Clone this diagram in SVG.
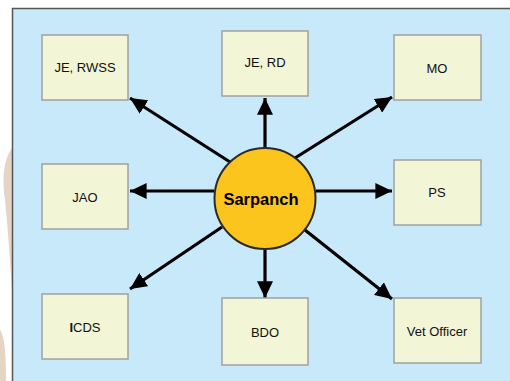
<svg xmlns="http://www.w3.org/2000/svg" width="510" height="381" viewBox="0 0 510 381">
<style>
.box{fill:#f2f5d6;stroke:#a0a0a0;stroke-width:1.5}
.lbl{font-family:"Liberation Sans",Arial,sans-serif;font-size:13px;fill:#111;text-anchor:middle;dominant-baseline:central}
.arr{stroke:#000;stroke-width:3.2;fill:none;marker-end:url(#ah)}
</style>
<defs>
<marker id="ah" markerWidth="6" markerHeight="5" refX="5.2" refY="2.5" orient="auto" markerUnits="strokeWidth">
<path d="M0,0 L5.2,2.5 L0,5 Z" fill="#000"/>
</marker>
</defs>
<rect width="510" height="381" fill="#fff"/>
<path d="M12,148 C3,160 2,180 5,200 C8,230 10,260 12,290 Z" fill="#e6d4c4"/>
<path d="M0,330 C4,335 6,350 6,381 L0,381 Z" fill="#e6d4c4"/>
<rect x="12.5" y="8.5" width="510" height="380" fill="#c8e9f9" stroke="#555" stroke-width="1.5"/>
<g id="connectors">
<line class="arr" x1="230" y1="162" x2="130" y2="98"/>
<line class="arr" x1="265" y1="149" x2="265" y2="98"/>
<line class="arr" x1="295" y1="158" x2="392" y2="97"/>
<line class="arr" x1="214" y1="191" x2="130" y2="191"/>
<line class="arr" x1="316" y1="191" x2="392" y2="191"/>
<line class="arr" x1="222" y1="227" x2="130" y2="289"/>
<line class="arr" x1="265" y1="248" x2="265" y2="298"/>
<line class="arr" x1="305" y1="230" x2="392" y2="299"/>
</g>
<g id="je-rwss"><rect class="box" x="42" y="35" width="86" height="65"/><text class="lbl" x="85" y="67">JE, RWSS</text></g>
<g id="je-rd"><rect class="box" x="222" y="31" width="86" height="65"/><text class="lbl" x="265" y="62">JE, RD</text></g>
<g id="mo"><rect class="box" x="394" y="35" width="87" height="65"/><text class="lbl" x="437" y="68">MO</text></g>
<g id="jao"><rect class="box" x="42" y="164" width="86" height="65"/><text class="lbl" x="85" y="197">JAO</text></g>
<g id="ps"><rect class="box" x="394" y="160" width="87" height="65"/><text class="lbl" x="437" y="192">PS</text></g>
<g id="icds"><rect class="box" x="42" y="294" width="86" height="65"/><text class="lbl" x="85" y="327"><tspan font-weight="bold">I</tspan>CDS</text></g>
<g id="bdo"><rect class="box" x="222" y="298" width="86" height="67"/><text class="lbl" x="265" y="332">BDO</text></g>
<g id="vet-officer"><rect class="box" x="394" y="298" width="87" height="65"/><text class="lbl" x="437" y="331">Vet Officer</text></g>
<g id="sarpanch"><circle cx="265" cy="198.5" r="50.5" fill="#fbc51d" stroke="#2a2a2a" stroke-width="2"/><text x="261" y="198.5" font-family="'Liberation Sans',Arial,sans-serif" font-size="16.5" font-weight="bold" fill="#000" text-anchor="middle" dominant-baseline="central">Sarpanch</text></g>
</svg>
